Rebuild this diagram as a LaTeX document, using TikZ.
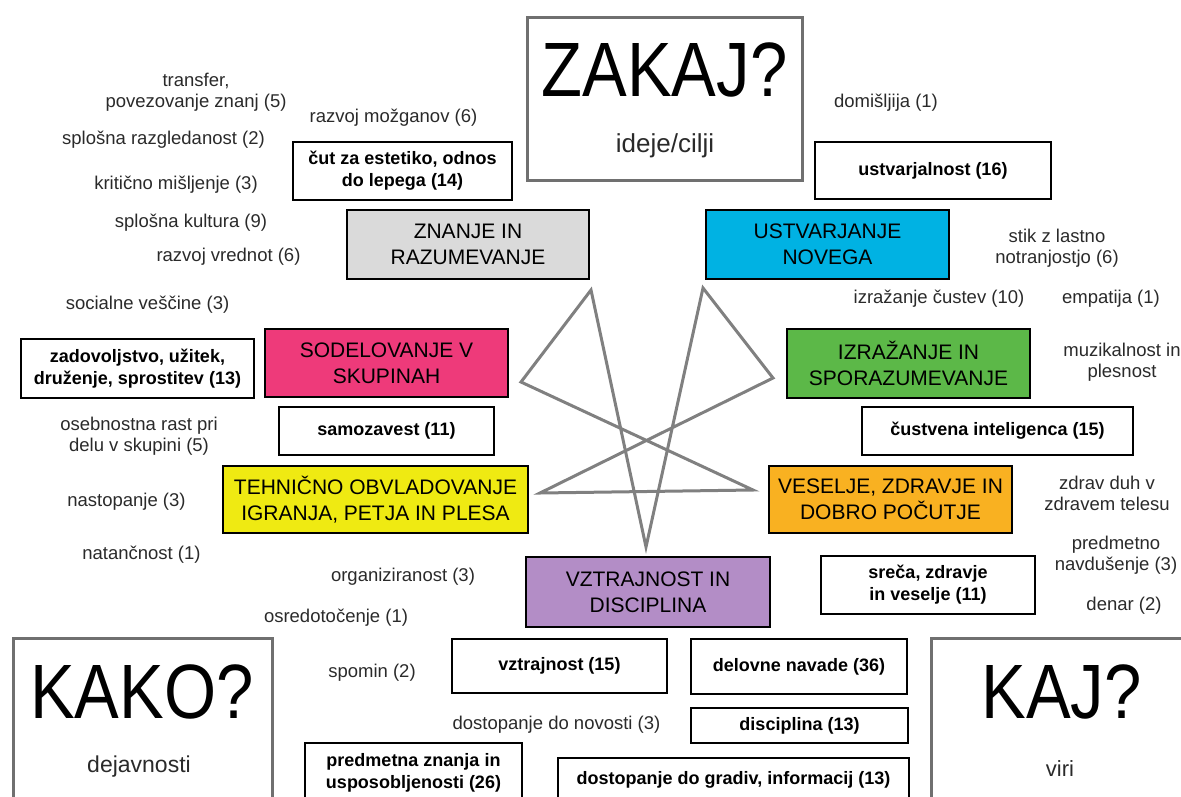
\documentclass[tikz,border=0pt]{standalone}
\usepackage{fontspec}
\usepackage{graphicx}
\setmainfont{Liberation Sans}
\definecolor{cznanje}{HTML}{DADADA}
\definecolor{custv}{HTML}{00B2E3}
\definecolor{csodel}{HTML}{EE3A7A}
\definecolor{cizraz}{HTML}{5CB848}
\definecolor{ctehn}{HTML}{EFEA12}
\definecolor{cvesel}{HTML}{F9B121}
\definecolor{cvztr}{HTML}{B38DC6}
\definecolor{cframe}{HTML}{707070}
\definecolor{cstar}{HTML}{808080}
\definecolor{ctext}{HTML}{2A2A2A}
\begin{document}
\begin{tikzpicture}[x=1pt,y=-1pt,
  lbl/.style={font=\fontsize{18.5}{21}\selectfont, align=center, inner sep=0pt, text=ctext},
  cat/.style={draw=black, line width=2pt, font=\fontsize{21}{26}\selectfont, align=center, inner sep=0pt, text=black},
  wbox/.style={draw=black, line width=2pt, fill=white, font=\bfseries\fontsize{18}{22}\selectfont, align=center, inner sep=0pt, text=black},
  bigbox/.style={draw=cframe, line width=3pt, inner sep=0pt},
  bigtxt/.style={inner sep=0pt, font=\fontsize{67}{67}\selectfont, text=black},
  subtxt/.style={inner sep=0pt, font=\fontsize{24}{28}\selectfont, text=ctext},
  starline/.style={draw=cstar, line width=3pt, line join=miter}
]
\useasboundingbox (0,0) rectangle (1181,796);
\clip (0,0) rectangle (1181,796);

% big frames
\node[bigbox, minimum width=275pt, minimum height=163pt] (zakaj) at (664.5,98.5) {};
\node[bigtxt] (zakajt) at (664.5,69.5) {\scalebox{1}[1.15]{ZAKAJ?}};
\node[subtxt, font=\fontsize{26}{30}\selectfont] (zakajs) at (665,146) {ideje/cilji};

\node[bigbox, minimum width=259pt, minimum height=200pt] (kako) at (142.5,738) {};
\node[bigtxt] (kakot) at (142,691.5) {\scalebox{1}[1.15]{KAKO?}};
\node[subtxt, font=\fontsize{23}{28}\selectfont] (kakos) at (139,767) {dejavnosti};

\node[bigbox, minimum width=280pt, minimum height=200pt] (kaj) at (1071,738) {};
\node[bigtxt] (kajt) at (1061.5,691.5) {\scalebox{1}[1.15]{KAJ?}};
\node[subtxt, font=\fontsize{22}{28}\selectfont] (kajs) at (1060,769) {viri};

% star
\coordinate (sA) at (591,290);
\coordinate (sB) at (703,288);
\coordinate (sC) at (773,378);
\coordinate (sD) at (753,490);
\coordinate (sE) at (646,547);
\coordinate (sF) at (540,493);
\coordinate (sG) at (521,382);
\draw[starline] (sA) -- (sG) -- (sD) -- (sF) -- (sC) -- (sB) -- (sE) -- cycle;

% category boxes
\node[cat, fill=cznanje, minimum width=242pt, minimum height=69pt] (znanje) at (468,244.5) {ZNANJE IN\\RAZUMEVANJE};
\node[cat, fill=custv, minimum width=243pt, minimum height=69pt] (ustv) at (827.5,244.5) {USTVARJANJE\\NOVEGA};
\node[cat, fill=csodel, minimum width=243pt, minimum height=68pt] (sodel) at (386.5,363) {SODELOVANJE V\\SKUPINAH};
\node[cat, fill=cizraz, minimum width=243pt, minimum height=69pt] (izraz) at (908.5,363.5) {IZRAŽANJE IN\\SPORAZUMEVANJE};
\node[cat, fill=ctehn, minimum width=305pt, minimum height=67pt] (tehn) at (375.5,499.5) {TEHNIČNO OBVLADOVANJE\\IGRANJA, PETJA IN PLESA};
\node[cat, fill=cvesel, minimum width=243pt, minimum height=67pt] (vesel) at (890.5,499.5) {VESELJE, ZDRAVJE IN\\DOBRO POČUTJE};
\node[cat, fill=cvztr, minimum width=244pt, minimum height=70pt] (vztr) at (648,592) {VZTRAJNOST IN\\DISCIPLINA};

% white boxes
\node[wbox, minimum width=219pt, minimum height=58pt] (cut) at (402.5,171) {čut za estetiko, odnos\\do lepega (14)};
\node[wbox, minimum width=236pt, minimum height=57pt] (ustvarj) at (933,170.5) {ustvarjalnost (16)};
\node[wbox, minimum width=233pt, minimum height=59pt] (zadov) at (137.5,368.5) {zadovoljstvo, užitek,\\druženje, sprostitev (13)};
\node[wbox, minimum width=215pt, minimum height=48pt] (samoz) at (386.5,431) {samozavest (11)};
\node[wbox, minimum width=271pt, minimum height=48pt] (custv) at (997.5,431) {čustvena inteligenca (15)};
\node[wbox, minimum width=214pt, minimum height=58pt] (seca) at (928,585) {sreča, zdravje\\in veselje (11)};
\node[wbox, minimum width=215pt, minimum height=54pt] (vztrn) at (559.5,666) {vztrajnost (15)};
\node[wbox, minimum width=216pt, minimum height=55pt] (delov) at (799,666.5) {delovne navade (36)};
\node[wbox, minimum width=217pt, minimum height=35pt] (disc) at (799.5,725.5) {disciplina (13)};
\node[wbox, minimum width=217pt, minimum height=60pt] (predm) at (413.5,773) {predmetna znanja in\\usposobljenosti (26)};
\node[wbox, minimum width=351pt, minimum height=44pt] (dostg) at (733.5,780) {dostopanje do gradiv, informacij (13)};

% free labels, left
\node[lbl] (transf) at (196,92.5) {transfer,\\povezovanje znanj (5)};
\node[lbl] (mozg) at (393.5,118) {razvoj možganov (6)};
\node[lbl] (razgl) at (163.5,140) {splošna razgledanost (2)};
\node[lbl] (krit) at (176,185) {kritično mišljenje (3)};
\node[lbl] (kult) at (191,223) {splošna kultura (9)};
\node[lbl] (vredn) at (228.5,257) {razvoj vrednot (6)};
\node[lbl] (social) at (147.5,305) {socialne veščine (3)};
\node[lbl] (oseb) at (139,436.5) {osebnostna rast pri\\delu v skupini (5)};
\node[lbl] (nastop) at (126.5,502) {nastopanje (3)};
\node[lbl] (natan) at (141.5,555) {natančnost (1)};
\node[lbl] (organ) at (403,577) {organiziranost (3)};
\node[lbl] (osred) at (336,618) {osredotočenje (1)};
\node[lbl] (spomin) at (372,673) {spomin (2)};
\node[lbl] (dostn) at (556.5,725) {dostopanje do novosti (3)};

% free labels, right
\node[lbl] (domis) at (886,103) {domišljija (1)};
\node[lbl] (stik) at (1057,248) {stik z lastno\\notranjostjo (6)};
\node[lbl] (izrc) at (939,299) {izražanje čustev (10)};
\node[lbl] (empat) at (1111,299) {empatija (1)};
\node[lbl] (muzik) at (1122,362.5) {muzikalnost in\\plesnost};
\node[lbl] (zdrav) at (1107,493) {zdrav duh v\\zdravem telesu};
\node[lbl] (navd) at (1116,555.5) {predmetno\\navdušenje (3)};
\node[lbl] (denar) at (1124,606) {denar (2)};
\end{tikzpicture}
\end{document}
